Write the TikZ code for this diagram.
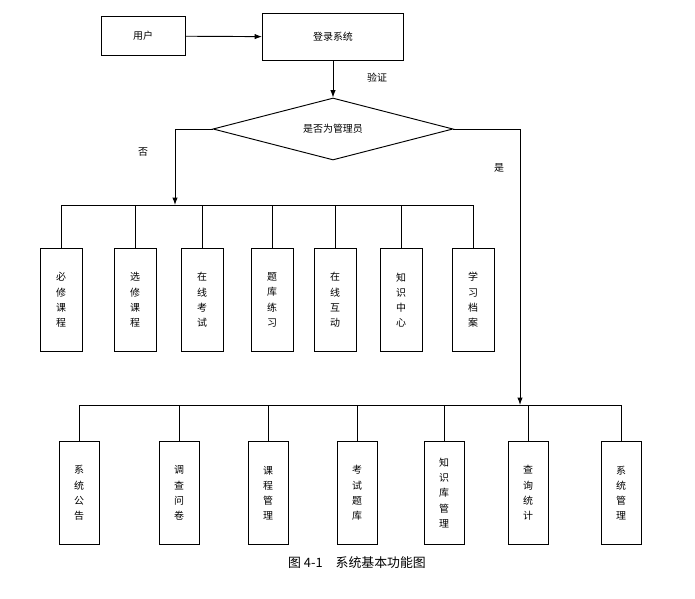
\documentclass[tikz,border=0pt]{standalone}
\usepackage{fontspec}
\setmainfont{Noto Sans CJK SC}
\usetikzlibrary{shapes.geometric,arrows.meta}
\begin{document}
\begin{tikzpicture}[x=0.03cm,y=-0.03cm,font=\fontsize{8.5}{13}\selectfont,
  box/.style={draw,thick,minimum width=84*0.03cm,minimum height=39*0.03cm},
  vbox/.style={draw,thick,minimum width=42*0.03cm,minimum height=103*0.03cm,align=center,inner sep=1pt},
  ln/.style={thick},
  arr/.style={thick,-{Latex[length=2.2mm,width=1.6mm]}}]
\useasboundingbox (0,0) rectangle (695,599);
\node[box] (user) at (143,36) {用户};
\node[box,minimum width=141*0.03cm,minimum height=47*0.03cm] (login) at (333,37) {登录系统};
\node[diamond,draw,thick,aspect=3.9,minimum width=240*0.03cm,minimum height=62*0.03cm,inner sep=0pt] (adm) at (333,129) {是否为管理员};
\draw[arr] (user) -- (login);
\draw[arr] (login) -- (adm);
\node at (377,78) {验证};
\coordinate (b1) at (175,205);
\coordinate (b2) at (520,405);
\draw[arr] (adm.west) -| (b1);
\draw[arr] (adm.east) -| (b2);
\node at (143,152) {否};
\node at (499,168) {是};
\foreach \n/\x/\t in {a1/61/必\\修\\课\\程, a2/135/选\\修\\课\\程, a3/202/在\\线\\考\\试, a4/272/题\\库\\练\\习, a5/335/在\\线\\互\\动, a6/401/知\\识\\中\\心, a7/473/学\\习\\档\\案}{
  \node[vbox] (\n) at (\x,300) {\t};
  \draw[ln] (\n.north) -- (\x,205);
}
\draw[ln] (a1.north |- b1) -- (a7.north |- b1);
\foreach \n/\x/\t in {c1/79/系\\统\\公\\告, c2/179/调\\查\\问\\卷, c3/268/课\\程\\管\\理, c4/357/考\\试\\题\\库, c5/444/知\\识\\库\\管\\理, c6/528/查\\询\\统\\计, c7/621/系\\统\\管\\理}{
  \node[vbox,minimum width=40*0.03cm] (\n) at (\x,493) {\t};
  \draw[ln] (\n.north) -- (\x,405);
}
\draw[ln] (c1.north |- b2) -- (c7.north |- b2);
\node[font=\fontsize{11}{13}\selectfont] (cap) at (357,563) {图 4-1\quad 系统基本功能图};
\end{tikzpicture}
\end{document}
